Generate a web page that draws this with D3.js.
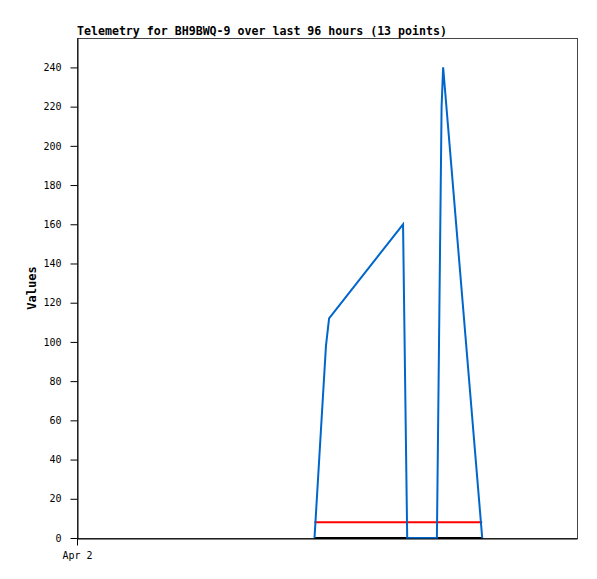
<!DOCTYPE html>
<html>
<head>
<meta charset="utf-8">
<title>Telemetry</title>
<script src="https://cdnjs.cloudflare.com/ajax/libs/d3/7.8.5/d3.min.js"></script>
<style>
  body { margin: 0; background: #fff; }
  text { font-family: "DejaVu Sans Mono", monospace; }
</style>
</head>
<body>
<svg id="chart" width="597" height="579"></svg>
<script>
// hours after Apr 2 00:00 for each reading
var blueHours  = [45.6, 47.8, 48.4, 62.6, 63.4, 69.1, 70.0, 70.3, 77.8];
var blueValues = [0, 98, 112, 160, 0, 0, 220, 240, 0];
var redHours   = [45.6, 77.8];
var redValues  = [8, 8];
var blackHours = [45.6, 77.8];
var blackValues = [0, 0];
var yTicks = [0, 20, 40, 60, 80, 100, 120, 140, 160, 180, 200, 220, 240];
var xTickLabels = ["Apr 2"];

var start = new Date(2024, 3, 2, 0, 0);
function at(h) { return new Date(start.getTime() + h * 3600 * 1000); }

var svg = d3.select("#chart");
var margin = { left: 77, top: 38, right: 20, bottom: 41 };
var w = 500, h = 500;

var x = d3.scaleTime().domain([start, at(96)]).range([margin.left, margin.left + w]);
var y = d3.scaleLinear().domain([0, 255]).range([margin.top + h, margin.top]);

svg.append("rect")
  .attr("x", margin.left + 0.5)
  .attr("y", margin.top + 0.5)
  .attr("width", w)
  .attr("height", h)
  .attr("fill", "none")
  .attr("stroke", "#444");

var line = d3.line()
  .x(function(d) { return x(at(d[0])); })
  .y(function(d) { return y(d[1]); });

function series(hours, values, color) {
  svg.append("path")
    .datum(d3.zip(hours, values))
    .attr("d", line)
    .attr("fill", "none")
    .attr("stroke", color)
    .attr("stroke-width", 2);
}
series(blackHours, blackValues, "#000");
series(redHours, redValues, "#ff0000");
series(blueHours, blueValues, "#0066cc");

var yAxis = svg.append("g")
  .attr("transform", "translate(" + (margin.left + 0.5) + ",0)")
  .call(d3.axisLeft(y).tickValues(yTicks).tickSizeInner(7).tickSizeOuter(0).tickPadding(9));
yAxis.selectAll("text").attr("font-size", 10).attr("font-family", "DejaVu Sans Mono").attr("fill", "#000");

var xAxis = svg.append("g")
  .attr("transform", "translate(0," + (margin.top + h + 0.5) + ")")
  .call(d3.axisBottom(x).tickValues([start]).tickFormat(function(d, i) { return xTickLabels[i]; })
    .tickSizeInner(7).tickSizeOuter(0).tickPadding(6));
xAxis.selectAll("text").attr("font-size", 10).attr("font-family", "DejaVu Sans Mono").attr("fill", "#000");

svg.selectAll(".domain").attr("stroke", "#000");

svg.append("text")
  .attr("x", margin.left)
  .attr("y", 35)
  .attr("font-size", 11.6)
  .attr("font-weight", "bold")
  .text("Telemetry for BH9BWQ-9 over last 96 hours (13 points)");

svg.append("text")
  .attr("transform", "translate(36," + (margin.top + h / 2) + ") rotate(-90)")
  .attr("text-anchor", "middle")
  .attr("font-size", 12)
  .attr("font-weight", "bold")
  .text("Values");
</script>
</body>
</html>
